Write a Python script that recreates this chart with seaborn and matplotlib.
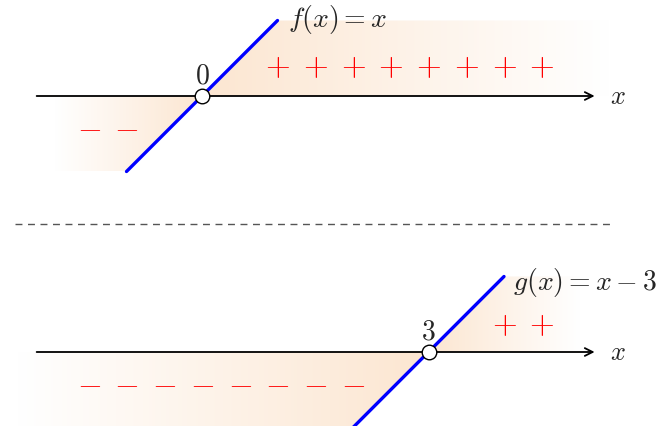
import seaborn as sns
import matplotlib.pyplot as plt
import numpy as np
from matplotlib.colors import LinearSegmentedColormap
from matplotlib.patches import Polygon

# data
f_x = [-1, 1]
f_y = [-1, 1]
g_x = [2, 4]
g_y = [-1, 1]
roots = [0, 3]
root_labels = ["0", "3"]
f_plus = [1, 1.5, 2, 2.5, 3, 3.5, 4, 4.5]
f_minus = [-1.5, -1]
g_plus = [4, 4.5]
g_minus = [-1.5, -1, -0.5, 0, 0.5, 1, 1.5, 2]
func_labels = ["$f(x) = x$", "$g(x) = x - 3$"]

sns.set_style("white")
plt.rcParams['mathtext.fontset'] = 'cm'
plt.rcParams['font.family'] = ['DejaVu Serif']

U = 75.5  # pixels per unit
fig = plt.figure(figsize=(6.63, 4.27), dpi=100)
ax = fig.add_axes([0, 0, 1, 1])
ax.set_xlim(-202 / U, 461 / U)
ax.set_ylim(-330 / U, 97 / U)
ax.axis('off')

off_b = -256 / U  # vertical position of second axis
peach = LinearSegmentedColormap.from_list("pe", ["white", "#fce6d1"])


def grad_fill(poly, x0, x1, y0, y1, to_right):
    patch = Polygon(poly, closed=True, fc='none', ec='none')
    ax.add_patch(patch)
    g = np.linspace(0, 1, 256)[None, :]
    if not to_right:
        g = g[:, ::-1]
    im = ax.imshow(g, extent=[x0, x1, y0, y1], cmap=peach, vmin=0, vmax=1,
                   aspect='auto', interpolation='bilinear', zorder=0)
    im.set_clip_path(patch)


# shaded sign regions
grad_fill([(0, 0), (1, 1), (5.4, 1), (5.4, 0)], 0, 5.4, 0, 1, False)
grad_fill([(-1.95, 0), (0, 0), (-1, -1), (-1.95, -1)], -1.95, 0, -1, 0, True)
grad_fill([(3, off_b), (4, off_b + 1), (5.0, off_b + 1), (5.0, off_b)],
          3, 5.0, off_b, off_b + 1, False)
grad_fill([(-2.45, off_b), (3, off_b), (2, off_b - 1), (-2.45, off_b - 1)],
          -2.45, 3, off_b - 1, off_b, True)

# axes arrows
for yy in [0, off_b]:
    ax.annotate("", xy=(5.2, yy), xytext=(-2.19, yy),
                arrowprops=dict(arrowstyle='->', lw=1.3, color='black',
                                shrinkA=0, shrinkB=0, mutation_scale=14), zorder=2)
    ax.text(5.4, yy, "$x$", fontsize=19, va='center', ha='left')

# separator
ax.plot([-2.48, 5.42], [-1.69, -1.69], ls=(0, (5, 4)), color='#555555', lw=1)

# function lines
sns.lineplot(x=f_x, y=f_y, ax=ax, color='blue', lw=2.4, zorder=3)
sns.lineplot(x=g_x, y=[v + off_b for v in g_y], ax=ax, color='blue', lw=2.4, zorder=3)

# roots
sns.scatterplot(x=roots, y=[0, off_b], ax=ax, s=110, color='white',
                edgecolor='black', linewidth=1, zorder=4)
for r, lab, yy in zip(roots, root_labels, [0, off_b]):
    ax.text(r, yy + 0.1, "$%s$" % lab, fontsize=20, ha='center', va='bottom')

ax.text(1.14, 1.02, func_labels[0], fontsize=20, ha='left', va='center')
ax.text(4.12, off_b + 0.94, func_labels[1], fontsize=20, ha='left', va='center')

# signs
for x in f_plus:
    ax.text(x, 0.4, "$+$", color='red', fontsize=23, ha='center', va='center')
for x in f_minus:
    ax.text(x, -0.4, "$-$", color='red', fontsize=23, ha='center', va='center')
for x in g_plus:
    ax.text(x, off_b + 0.38, "$+$", color='red', fontsize=23, ha='center', va='center')
for x in g_minus:
    ax.text(x, off_b - 0.4, "$-$", color='red', fontsize=23, ha='center', va='center')

fig.savefig("out.png", dpi=100)
